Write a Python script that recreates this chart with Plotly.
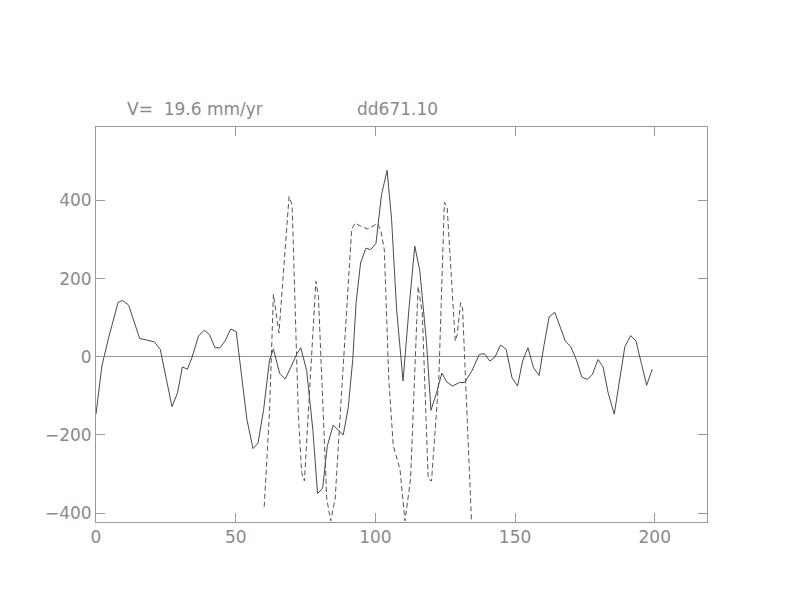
import plotly.graph_objects as go

# Solid series (x, y)
solid_x = [0, 2.1, 4.5, 7.9, 9.5, 11.7, 15.6, 20.9, 23, 27.2, 29.2, 30.9, 32.7, 34.3, 36.7, 38.7,
           40.6, 42.6, 44.4, 46.2, 48.2, 50.2, 54, 56.2, 58, 60, 62.1, 63.5, 65.7, 67.7, 69.8,
           71.8, 73.3, 75.4, 77.6, 79.3, 81.1, 82.8, 84.9, 88.5, 90.3, 91.9, 93.1, 94.7, 96.6,
           98.3, 100.2, 102.2, 104.2, 105.8, 107.6, 109.9, 112.1, 114.1, 115.9, 118.3, 119.9,
           121.9, 123.8, 125.6, 127.6, 130.1, 131.9, 134.5, 137.2, 139, 141, 142.8, 144.8, 146.8,
           148.9, 150.9, 152.7, 154.6, 156.6, 158.6, 160.4, 162.2, 164.2, 166, 168, 169.9, 171.9,
           173.9, 175.9, 177.7, 179.7, 181.5, 183.3, 185.5, 187.5, 189.3, 191.4, 193.3, 195.3,
           197.1, 199.1]
solid_y = [-147, -24, 48, 139, 144, 132, 47, 38, 19, -128, -92, -26, -32, -3, 53, 68,
           57, 23, 23, 40, 71, 64, -160, -235, -221, -135, -9, 20, -42, -57, -26,
           6, 23, -35, -186, -350, -337, -228, -175, -200, -130, -7, 138, 240, 278,
           274, 290, 415, 477, 351, 121, -62, 129, 283, 220, 36, -137,
           -92, -42, -65, -75, -66, -66, -37, 6, 8, -11, -1, 30, 19,
           -54, -75, -11, 23, -28, -48, 31, 102, 114, 80, 40, 26, -7,
           -52, -58, -45, -7, -26, -92, -147, -58, 26, 54, 40, -20,
           -73, -32]

# Dashed series (x, y)
dash_x = [60.2, 62.1, 63.5, 64.5, 65.5, 69.1, 70.2, 72.4, 73.6, 74.6, 78.7, 79.6, 82.6, 84.0,
          85.6, 87.1, 90.7, 91.5, 92.7, 94.5, 97.2, 100.8, 102.0, 103.2, 104.8, 106.4, 108.8,
          110.6, 112.6, 115.3, 116.8, 118.9, 120.1, 122.7, 124.7, 125.7, 127.9, 128.6, 129.3,
          130.5, 131.2, 132.1, 134.4]
dash_y = [-384, -143, 160, 115, 61, 410, 388, -143, -296, -318, 193, 155, -364, -420,
          -364, -186, 257, 325, 342, 335, 327, 341, 321, 274, -58, -228, -288,
          -420, -313, 180, 112, -313, -318, -58, 395, 381, 121, 40, 57,
          138, 125, -24, -420]

x_ticks = [0, 50, 100, 150, 200]
y_ticks = [-400, -200, 0, 200, 400]
title_left = "V=  19.6 mm/yr"
title_right = "dd671.10"

fig = go.Figure()
fig.add_trace(go.Scatter(x=solid_x, y=solid_y, mode="lines",
                         line=dict(color="#4a4a4a", width=1), showlegend=False))
fig.add_trace(go.Scatter(x=dash_x, y=dash_y, mode="lines",
                         line=dict(color="#555555", width=1, dash="5px,3px"), showlegend=False))

axis_common = dict(showgrid=False, showline=True, linecolor="#999999", linewidth=1,
                   mirror="ticks", ticks="inside", ticklen=9, tickcolor="#999999",
                   tickfont=dict(family="DejaVu Sans", size=17, color="#8a8a8a"))

fig.update_xaxes(range=[0, 218.7], tickvals=x_ticks, ticktext=[str(v) for v in x_ticks],
                 zeroline=False, **axis_common)
fig.update_yaxes(range=[-423, 588], tickvals=y_ticks,
                 ticktext=[("\u2212" + str(-v)) if v < 0 else str(v) for v in y_ticks],
                 zeroline=True, zerolinecolor="#999999", zerolinewidth=1, **axis_common)

fig.update_layout(
    width=792, height=612,
    margin=dict(l=88, r=93, t=119, b=98),
    paper_bgcolor="white", plot_bgcolor="white",
    annotations=[
        dict(text=title_left, xref="paper", yref="paper", x=0.047, y=1.0456,
             xanchor="left", yanchor="middle", showarrow=False,
             font=dict(family="DejaVu Sans", size=17, color="#8a8a8a")),
        dict(text=title_right, xref="paper", yref="paper", x=0.424, y=1.0456,
             xanchor="left", yanchor="middle", showarrow=False,
             font=dict(family="DejaVu Sans", size=17, color="#8a8a8a")),
    ],
)

fig.write_html("out.html")
